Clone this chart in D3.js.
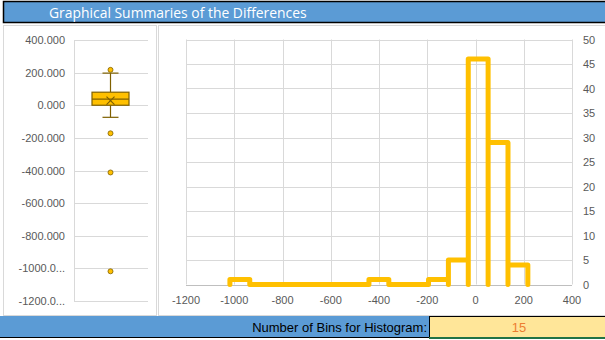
<!DOCTYPE html>
<html>
<head>
<meta charset="utf-8">
<script src="https://cdn.jsdelivr.net/npm/d3@7"></script>
<style>
  body { margin: 0; background: #fff; }
  svg text { font-family: "Liberation Sans", Arial, sans-serif; }
</style>
</head>
<body>
<div id="chart"></div>
<script>
// box plot summary
const boxStats = { min: -74, q1: 0, median: 37, q3: 80, max: 197, mean: 28 };
const outliers = [217, -172, -412, -1018];
const boxTicks = [400, 200, 0, -200, -400, -600, -800, -1000, -1200];
const boxTickLabels = ["400.000", "200.000", "0.000", "-200.000", "-400.000",
  "-600.000", "-800.000", "-1000.0...", "-1200.0..."];

// histogram
const binEdges = [-1018, -935.7, -853.3, -771, -688.7, -606.3, -524, -441.7,
  -359.3, -277, -194.7, -112.3, -30, 52.3, 134.7, 217];
const binCounts = [1, 0, 0, 0, 0, 0, 0, 1, 0, 0, 1, 5, 46, 29, 4];
const histXTicks = [-1200, -1000, -800, -600, -400, -200, 0, 200, 400];
const histYTicks = [0, 5, 10, 15, 20, 25, 30, 35, 40, 45, 50];

const title = "Graphical Summaries of the Differences";
const binsLabel = "Number of Bins for Histogram:";
const binsValue = 15;

const gold = "#FFC000";
const brown = "#7F6000";
const grid = "#d9d9d9";
const labelColor = "#595959";

const svg = d3.select("#chart")
  .append("svg")
  .attr("width", 605)
  .attr("height", 340);

// header bar
svg.append("rect")
  .attr("x", 3.5).attr("y", 1.5)
  .attr("width", 610).attr("height", 21)
  .attr("fill", "#5B9BD5")
  .attr("stroke", "#000")
  .attr("stroke-width", 1.5);

svg.append("text")
  .attr("x", 49).attr("y", 17.5)
  .attr("fill", "#fff")
  .attr("font-size", 13.9)
  .style("font-family", "'Open Sans', sans-serif")
  .text(title);

// panel frames
svg.append("rect")
  .attr("x", 3.5).attr("y", 25.5)
  .attr("width", 153).attr("height", 290)
  .attr("fill", "#fff").attr("stroke", grid);
svg.append("rect")
  .attr("x", 158.5).attr("y", 25.5)
  .attr("width", 460).attr("height", 290)
  .attr("fill", "#fff").attr("stroke", grid);

// ---- box plot ----
const yBox = d3.scaleLinear().domain([-1200, 400]).range([301, 40]);
const bx0 = 74, bx1 = 148, bcx = 110.5;

svg.append("g")
  .selectAll("line")
  .data(boxTicks)
  .enter()
  .append("line")
  .attr("x1", bx0).attr("x2", bx1)
  .attr("y1", (d) => Math.round(yBox(d)) + 0.5)
  .attr("y2", (d) => Math.round(yBox(d)) + 0.5)
  .attr("stroke", grid);

svg.append("line")
  .attr("x1", bx0 + 0.5).attr("x2", bx0 + 0.5)
  .attr("y1", yBox(400)).attr("y2", yBox(-1200))
  .attr("stroke", grid);

svg.append("g")
  .selectAll("text")
  .data(boxTicks)
  .enter()
  .append("text")
  .attr("x", 65)
  .attr("y", (d) => yBox(d) + 4)
  .attr("text-anchor", "end")
  .attr("font-size", 11)
  .attr("fill", labelColor)
  .text((d, i) => boxTickLabels[i]);

const box = svg.append("g").attr("stroke", brown).attr("stroke-width", 1.2);
// whiskers
box.append("line")
  .attr("x1", bcx).attr("x2", bcx)
  .attr("y1", yBox(boxStats.max)).attr("y2", yBox(boxStats.q3));
box.append("line")
  .attr("x1", bcx).attr("x2", bcx)
  .attr("y1", yBox(boxStats.q1)).attr("y2", yBox(boxStats.min));
[boxStats.max, boxStats.min].forEach((v) => {
  box.append("line")
    .attr("x1", bcx - 8).attr("x2", bcx + 8)
    .attr("y1", yBox(v)).attr("y2", yBox(v));
});
box.append("rect")
  .attr("x", 92).attr("width", 37)
  .attr("y", yBox(boxStats.q3))
  .attr("height", yBox(boxStats.q1) - yBox(boxStats.q3))
  .attr("fill", gold);
box.append("line")
  .attr("x1", 92).attr("x2", 129)
  .attr("y1", yBox(boxStats.median)).attr("y2", yBox(boxStats.median));
// mean marker
const my = yBox(boxStats.mean);
box.append("path")
  .attr("d", `M${bcx - 4},${my - 4}L${bcx + 4},${my + 4}M${bcx - 4},${my + 4}L${bcx + 4},${my - 4}`)
  .attr("fill", "none");

svg.append("g")
  .selectAll("circle")
  .data(outliers)
  .enter()
  .append("circle")
  .attr("cx", bcx)
  .attr("cy", (d) => yBox(d))
  .attr("r", 2.5)
  .attr("fill", gold)
  .attr("stroke", brown)
  .attr("stroke-width", 0.8);

// ---- histogram ----
const xH = d3.scaleLinear().domain([-1200, 400]).range([186, 572]);
const yH = d3.scaleLinear().domain([0, 50]).range([284.5, 39.5]);

svg.append("g")
  .selectAll("line")
  .data(histYTicks)
  .enter()
  .append("line")
  .attr("x1", xH(-1200)).attr("x2", xH(400))
  .attr("y1", (d) => Math.round(yH(d)) + 0.5)
  .attr("y2", (d) => Math.round(yH(d)) + 0.5)
  .attr("stroke", (d) => (d === 0 ? "#bfbfbf" : grid));

svg.append("g")
  .selectAll("line")
  .data(histXTicks)
  .enter()
  .append("line")
  .attr("x1", (d) => Math.round(xH(d)) + 0.5)
  .attr("x2", (d) => Math.round(xH(d)) + 0.5)
  .attr("y1", yH(50)).attr("y2", yH(0))
  .attr("stroke", grid);

svg.append("g")
  .selectAll("text")
  .data(histXTicks)
  .enter()
  .append("text")
  .attr("x", (d) => xH(d))
  .attr("y", 304)
  .attr("text-anchor", "middle")
  .attr("font-size", 11)
  .attr("fill", labelColor)
  .text((d) => d);

svg.append("g")
  .selectAll("text")
  .data(histYTicks)
  .enter()
  .append("text")
  .attr("x", 583)
  .attr("y", (d) => yH(d) + 4)
  .attr("font-size", 11)
  .attr("fill", labelColor)
  .text((d) => d);

// step outline, one column per bin
const pts = [];
binCounts.forEach((c, i) => {
  const a = binEdges[i], b = binEdges[i + 1];
  pts.push([a, 0], [a, c], [b, c], [b, 0]);
});
const stepLine = d3.line()
  .x((d) => xH(d[0]))
  .y((d) => yH(d[1]));

svg.append("path")
  .datum(pts)
  .attr("d", stepLine)
  .attr("fill", "none")
  .attr("stroke", gold)
  .attr("stroke-width", 5)
  .attr("stroke-linejoin", "round")
  .attr("stroke-linecap", "round");

// ---- bottom bar ----
svg.append("rect")
  .attr("x", 0).attr("y", 316)
  .attr("width", 429).attr("height", 21)
  .attr("fill", "#5B9BD5");
svg.append("rect")
  .attr("x", 429.5).attr("y", 316)
  .attr("width", 180).attr("height", 21)
  .attr("fill", "#FFE699");
svg.append("line")
  .attr("x1", 429).attr("x2", 605)
  .attr("y1", 316.5).attr("y2", 316.5)
  .attr("stroke", "#000");
svg.append("line")
  .attr("x1", 429.5).attr("x2", 429.5)
  .attr("y1", 316).attr("y2", 338)
  .attr("stroke", "#000");
svg.append("line")
  .attr("x1", 0).attr("x2", 429)
  .attr("y1", 337.5).attr("y2", 337.5)
  .attr("stroke", "#000");
svg.append("line")
  .attr("x1", 429).attr("x2", 605)
  .attr("y1", 338).attr("y2", 338)
  .attr("stroke", "#217346")
  .attr("stroke-width", 2);

svg.append("text")
  .attr("x", 427).attr("y", 332)
  .attr("text-anchor", "end")
  .attr("font-size", 13)
  .attr("fill", "#000")
  .text(binsLabel);
svg.append("text")
  .attr("x", 519).attr("y", 332)
  .attr("text-anchor", "middle")
  .attr("font-size", 13)
  .attr("fill", "#ED7D31")
  .text(binsValue);
</script>
</body>
</html>
